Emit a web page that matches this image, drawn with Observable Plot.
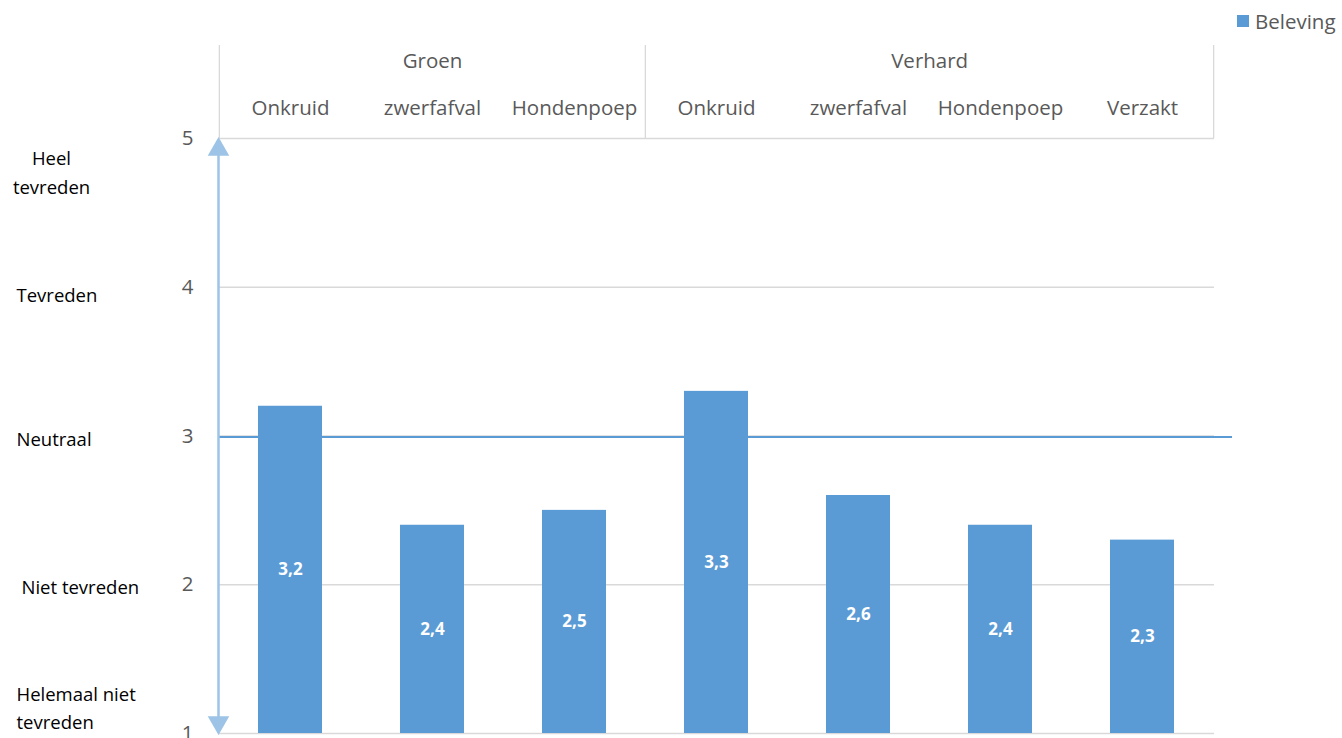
<!DOCTYPE html>
<html><head><meta charset="utf-8">
<script src="https://cdn.jsdelivr.net/npm/d3@7"></script>
<script src="https://cdn.jsdelivr.net/npm/@observablehq/plot@0.6"></script>
<style>
body{margin:0;background:#fff;font-family:"Open Sans",sans-serif;}
#wrap{position:relative;width:1342px;height:738px;overflow:hidden;}
#legend{position:absolute;left:1237px;top:7px;font-size:20.5px;color:#595959;display:flex;align-items:center;white-space:nowrap;}
#legend .sw{width:12px;height:12px;background:#5B9BD5;margin-right:6px;display:inline-block}
</style></head><body>
<div id="wrap"><div id="legend"><span class="sw"></span>Beleving</div></div>
<script>
const groups = ["Groen","Groen","Groen","Verhard","Verhard","Verhard","Verhard"];
const items = ["Onkruid","zwerfafval","Hondenpoep","Onkruid","zwerfafval","Hondenpoep","Verzakt"];
const values = [3.2,2.4,2.5,3.3,2.6,2.4,2.3];
const yTicks = [1,2,3,4,5];
const scaleLabels = ["Heel\ntevreden","Tevreden","Neutraal","Niet tevreden","Helemaal niet\ntevreden"];
const scaleLabelY = [4.787,3.94,2.97,1.98,1.185];
const neutral = 3;

const keys = items.map((d,i)=>groups[i]+"|"+d);
const data = keys.map((k,i)=>({key:k, group:groups[i], item:items[i], value:values[i]}));
const W=1342,H=738,ML=218,MR=128,MT=138,MB=5;
const step=(W-ML-MR)/keys.length;

// group header positions
const groupNames = [...new Set(groups)];
const groupInfo = groupNames.map(g=>{
  const idx = groups.map((d,i)=>d===g?i:-1).filter(i=>i>=0);
  const first=idx[0], last=idx[idx.length-1];
  const mid=(first+last)/2;
  return {group:g, first, last, midKey:keys[Math.floor(mid)], off:(mid-Math.floor(mid))*step};
});
const sepLeft = groupInfo.map(g=>keys[g.first]);
const sepRight = [keys[keys.length-1]];

const labelsL = scaleLabels.map((t,i)=>({t, y:scaleLabelY[i]}));
const yHeaderTop = 5 + (MT-45)/((H-MT-MB)/4);
const yGroup = 5 + (MT-61)/((H-MT-MB)/4);

const plot = Plot.plot({
  width:W, height:H, marginLeft:ML, marginRight:MR, marginTop:MT, marginBottom:MB,
  style:{fontFamily:'"Open Sans", sans-serif', color:"#595959", background:"white", overflow:"visible"},
  x:{type:"band", domain:keys, paddingInner:0.55, paddingOuter:0.275},
  y:{domain:[1,5]},
  marks:[
    Plot.ruleY(yTicks, {stroke:"#d9d9d9", strokeWidth:1.3}),
    Plot.ruleX(sepLeft, {x:d=>d, y1:5, y2:yHeaderTop, dx:-step/2, stroke:"#d9d9d9", strokeWidth:1.3}),
    Plot.ruleX(sepRight, {x:d=>d, y1:5, y2:yHeaderTop, dx:step/2, stroke:"#d9d9d9", strokeWidth:1.3}),
    Plot.ruleY([neutral], {stroke:"#5B9BD5", strokeWidth:2, insetRight:-18, dy:1}),
    Plot.barY(data, {x:"key", y1:1, y2:"value", fill:"#5B9BD5"}),
    Plot.text(data, {x:"key", y:d=>(1+d.value)/2, text:d=>d3.format(".1f")(d.value).replace(".",","), fill:"white", fontWeight:"bold", fontSize:17}),
    Plot.frame({anchor:"left", stroke:"#9DC3E6", strokeWidth:2.5, insetTop:10, insetBottom:10}),
    Plot.dot([5], {y:d=>d, frameAnchor:"left", symbol:"triangle", r:8, fill:"#9DC3E6", dy:11}),
    Plot.dot([1], {y:d=>d, frameAnchor:"left", symbol:"triangle", r:8, fill:"#9DC3E6", dy:-11, rotate:180}),
    Plot.axisY({ticks:yTicks, tickSize:0, tickPadding:25, fontSize:20.5, tickFormat:d=>d}),
    Plot.axisX({anchor:"top", tickSize:0, tickPadding:24, fontSize:20.5, tickFormat:k=>k.split("|")[1], label:null}),
    Plot.text(groupInfo, {x:"midKey", dx:groupInfo[0].off, y:yGroup, text:"group", fontSize:20.5, fill:"#595959", filter:d=>d.off===0}),
    Plot.text(groupInfo, {x:"midKey", dx:step/2, y:yGroup, text:"group", fontSize:20.5, fill:"#595959", filter:d=>d.off!==0}),
    Plot.text(labelsL.slice(0,1), {y:"y", text:"t", frameAnchor:"left", dx:51-ML, textAnchor:"middle", fontSize:18.5, fill:"black", lineHeight:1.57}),
    Plot.text(labelsL.slice(1,3), {y:"y", text:"t", frameAnchor:"left", dx:16-ML, textAnchor:"start", fontSize:18.5, fill:"black"}),
    Plot.text(labelsL.slice(3,4), {y:"y", text:"t", frameAnchor:"left", dx:21-ML, textAnchor:"start", fontSize:18.5, fill:"black"}),
    Plot.text(labelsL.slice(4), {y:"y", text:"t", frameAnchor:"left", dx:16-ML, textAnchor:"start", fontSize:18.5, fill:"black", lineHeight:1.52})
  ]
});
document.getElementById("wrap").prepend(plot);
</script>
</body></html>
